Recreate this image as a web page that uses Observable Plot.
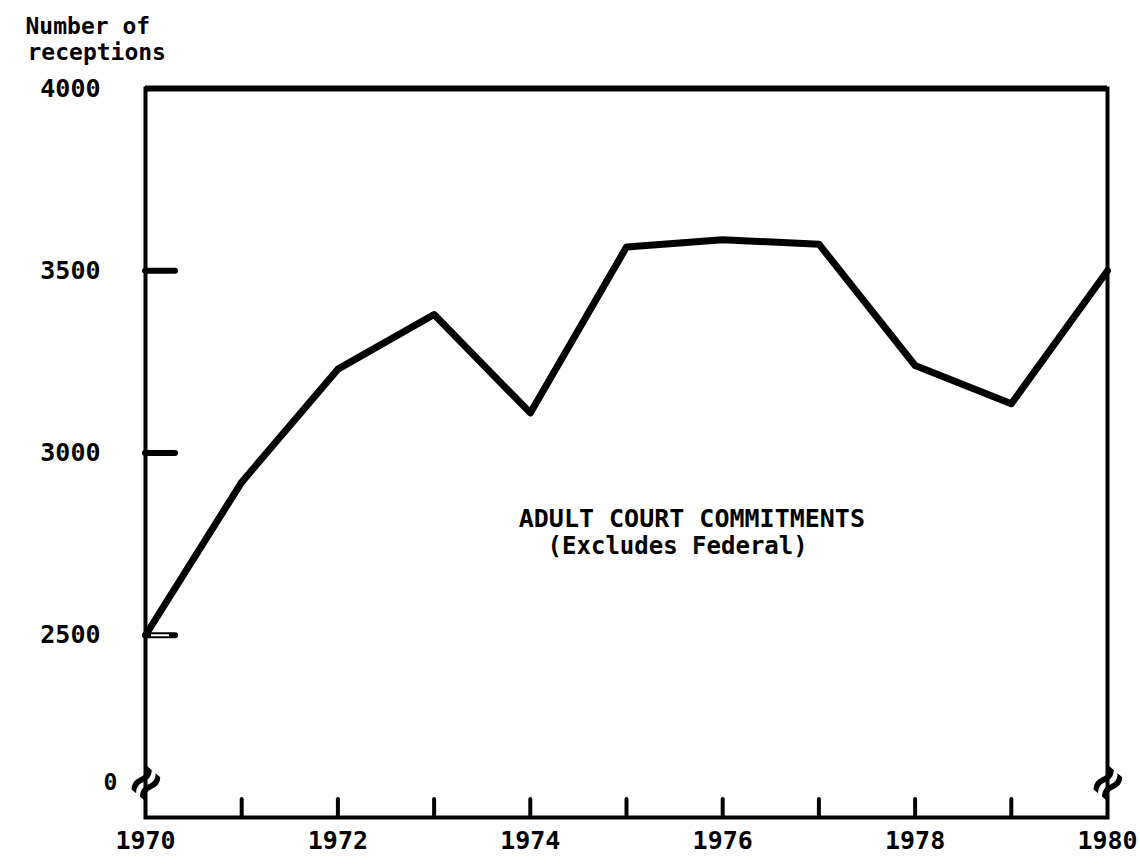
<!DOCTYPE html>
<html><head><meta charset="utf-8">
<script src="https://cdn.jsdelivr.net/npm/d3@7"></script>
<script src="https://cdn.jsdelivr.net/npm/@observablehq/plot@0.6"></script>
<style>body{margin:0;background:#fff} svg{display:block}</style>
</head><body><div id="chart"></div>
<script>
const years = [1970, 1971, 1972, 1973, 1974, 1975, 1976, 1977, 1978, 1979, 1980];
const receptions = [2500, 2920, 3230, 3380, 3110, 3565, 3585, 3573, 3240, 3135, 3500];
const yTickValues = [2500, 3000, 3500, 4000];
const yInnerTicks = [2500, 3000, 3500];
const xLabelYears = [1970, 1972, 1974, 1976, 1978, 1980];
const xMinorYears = [1971, 1972, 1973, 1974, 1975, 1976, 1977, 1978, 1979];
const yTitle = ["Number of", "receptions"];
const breakLabel = ["0"];
const breakValue = 2095;
const annotation = ["ADULT COURT COMMITMENTS", "(Excludes Federal)"];

const data = years.map((year, i) => ({year, value: receptions[i]}));
const font = "'DejaVu Sans Mono', 'Liberation Mono', monospace";
const fmt = d => `${d}`;

const chart = Plot.plot({
  width: 1140,
  height: 865,
  marginLeft: 145,
  marginRight: 33,
  marginTop: 88,
  marginBottom: 48,
  style: {fontFamily: font, fontWeight: "bold", background: "#fff", color: "#000"},
  x: {domain: [1970, 1980], label: null},
  y: {domain: [2000, 4000], label: null},
  marks: [
    Plot.frame({stroke: "#000", strokeWidth: 4}),
    Plot.ruleY([4000], {stroke: "#000", strokeWidth: 6}),
    Plot.ruleY(yInnerTicks, {y: d => d, x1: 1970, x2: 1970, insetRight: -30, stroke: "#000", strokeWidth: 6, strokeLinecap: "round"}),
    Plot.ruleY([yInnerTicks[0]], {y: d => d, x1: 1970, x2: 1970, insetLeft: 6, insetRight: -24, stroke: "#fff", strokeWidth: 2}),
    Plot.ruleX(xMinorYears, {x: d => d, y1: 2000, y2: 2000, insetTop: -18, stroke: "#000", strokeWidth: 4, strokeLinecap: "round"}),
    Plot.axisY(yTickValues, {label: null, tickSize: 0, tickPadding: 45, fontSize: 25, tickFormat: fmt}),
    Plot.axisX(xLabelYears, {label: null, tickSize: 0, tickPadding: 14, fontSize: 25, tickFormat: fmt}),
    Plot.text(breakLabel, {x: 1970, y: breakValue, dx: -35, fontSize: 23, text: d => d}),
    Plot.text(["≈"], {x: 1970, y: breakValue, rotate: -50, fontSize: 54, fontWeight: "bold", fill: "#000", text: d => d}),
    Plot.text(["≈"], {x: 1980, y: breakValue, rotate: -50, fontSize: 54, fontWeight: "bold", fill: "#000", text: d => d}),
    Plot.line(data, {x: "year", y: "value", stroke: "#000", strokeWidth: 7, strokeLinejoin: "round", strokeLinecap: "round"}),
    Plot.text([annotation[0]], {x: 1973.88, y: 2820, textAnchor: "start", fontSize: 25, text: d => d}),
    Plot.text([annotation[1]], {x: 1974.18, y: 2745, textAnchor: "start", fontSize: 24, text: d => d}),
    Plot.text([yTitle[0]], {frameAnchor: "top-left", dx: -120, dy: -71, textAnchor: "start", fontSize: 23, text: d => d}),
    Plot.text([yTitle[1]], {frameAnchor: "top-left", dx: -118, dy: -45, textAnchor: "start", fontSize: 23, text: d => d})
  ]
});
document.getElementById("chart").append(chart);
</script>
</body></html>
